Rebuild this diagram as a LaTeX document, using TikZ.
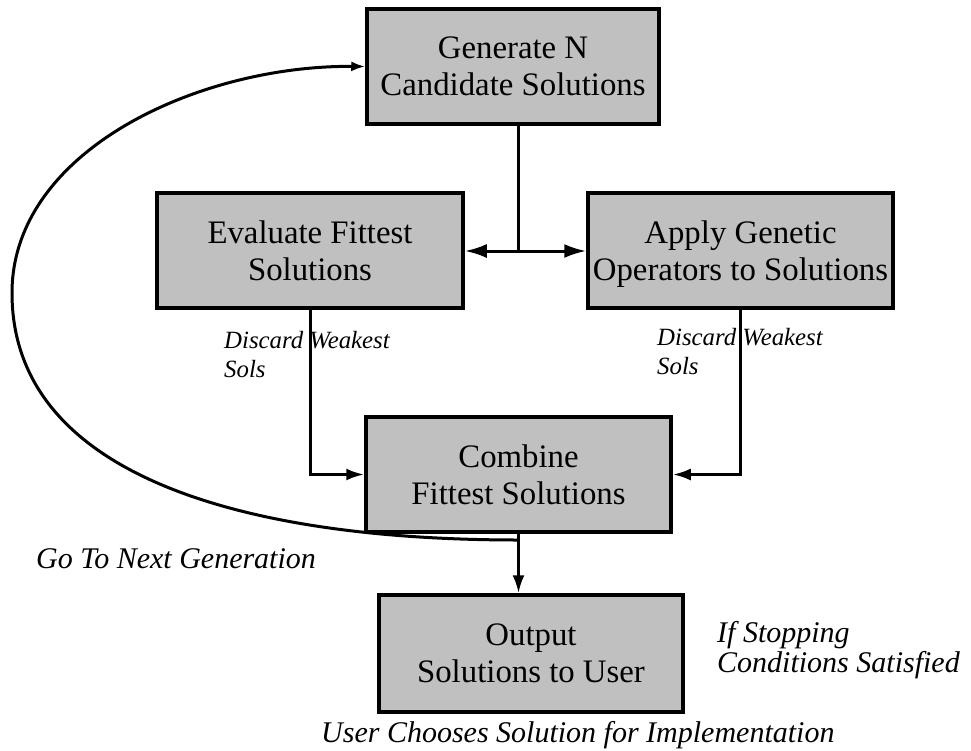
\documentclass[tikz,border=0pt]{standalone}
\usepackage{fontspec}
\setmainfont{Liberation Serif}
\usetikzlibrary{arrows.meta}
\definecolor{boxgray}{RGB}{192,192,192}
\tikzset{
  box/.style={draw=black, line width=3.5pt, fill=boxgray, align=center, inner sep=0pt,
    font=\fontsize{32.8}{37}\selectfont},
  link/.style={line width=3pt, -{Latex[length=18pt,width=12pt]}},
  lbl/.style={font=\fontsize{30}{30}\selectfont\itshape, align=left, inner sep=0pt, anchor=base west},
  smalllbl/.style={font=\fontsize{24.8}{29}\selectfont\itshape}
}

\begin{document}
\begin{tikzpicture}[x=1pt,y=-1pt]
		%%%%% START %%%%%
		\useasboundingbox (0,0) rectangle (971,750);
		
		\node[box, minimum width=292pt, minimum height=115pt] (gen) at (513,66.5) {Generate N\\Candidate Solutions};
		\node[box, minimum width=306pt, minimum height=115pt] (eval) at (310,250.5) {Evaluate Fittest\\Solutions};
		\node[box, minimum width=305pt, minimum height=115pt] (apply) at (740.5,250.5) {Apply Genetic\\\smash{Operators to Solutions}};
		\node[box, minimum width=305pt, minimum height=115pt] (comb) at (518.5,474.5) {Combine\\Fittest Solutions};
		\node[box, minimum width=304pt, minimum height=117pt] (out) at (531,653.5) {Output\\Solutions to User};
		
		% base anchor sits on the last line
		\node[lbl, smalllbl] (discl) at (224,377) {Discard Weakest\\Sols};
		\node[lbl, smalllbl] (discr) at (657,374) {Discard Weakest\\Sols};
		\node[lbl] (nextgen) at (36,568) {Go To Next Generation};
		\node[lbl] (stop) at (717,672) {If Stopping\\Conditions Satisfied};
		\node[lbl] (choose) at (321,742) {User Chooses Solution for Implementation};
		
		\coordinate (split) at (518,251);
		\draw[line width=3pt] (gen.south -| split) -- (split);
		\draw[line width=3pt, {Latex[length=22pt,width=14pt]}-{Latex[length=22pt,width=14pt]}] (eval.east |- split) -- (apply.west |- split);
		
		\draw[link] (eval.south) |- (comb.west);
		\draw[link] (apply.south) |- (comb.east);
		\draw[link] (comb.south) -- (comb.south |- out.north);
		
		\coordinate (loop) at (519,540);
		\draw[line width=3pt, -{Latex[length=14pt,width=10pt]}] (loop) .. controls (230,540) and (12,470) .. (12,293)
			.. controls (12,150) and (200,65) .. (gen.west);
		%%%%% END %%%%%
\end{tikzpicture}
\end{document}
